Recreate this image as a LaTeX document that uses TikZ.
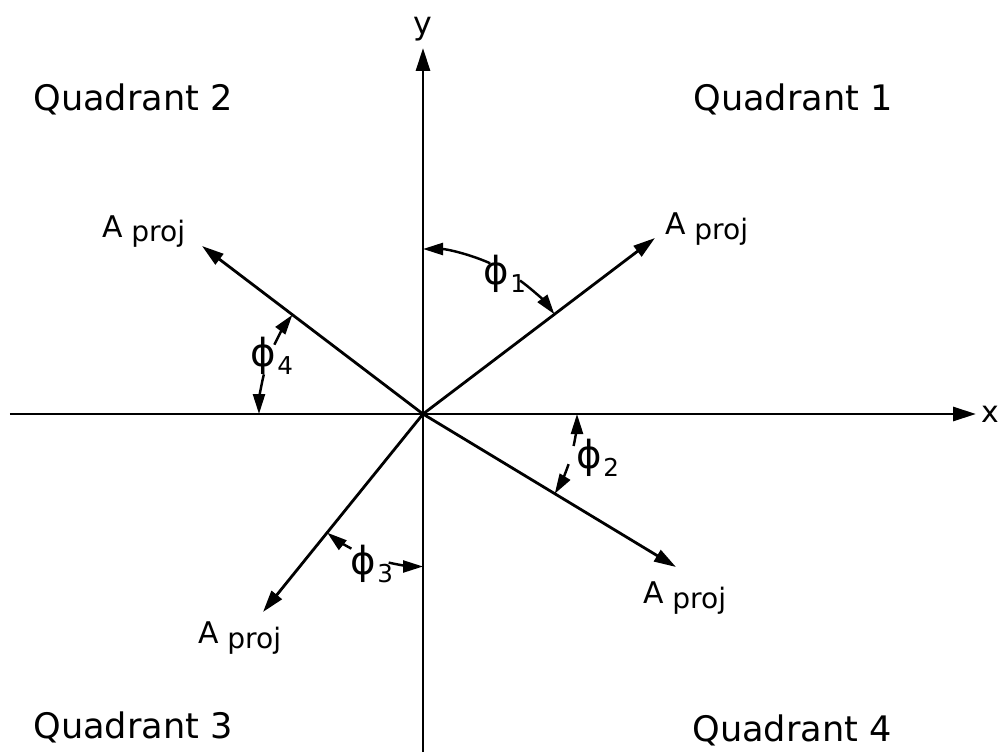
\documentclass[tikz,border=0pt]{standalone}
\usepackage{fontspec}
\setmainfont{DejaVu Sans}
\usetikzlibrary{arrows.meta,positioning}
\newcommand{\aproj}{A\hspace{0.17cm}\raisebox{-0.1cm}{\fontsize{16}{18}\selectfont proj}}
\newcommand{\phisub}[1]{{\fontsize{22}{24}\selectfont ϕ}\hspace{0.02cm}\raisebox{-0.15cm}{\fontsize{14}{16}\selectfont #1}}

\begin{document}
\begin{tikzpicture}[
    axis/.style={line width=1.7pt, -{Triangle[length=0.46cm,width=0.28cm]}},
    vec/.style={line width=1.6pt, -{Triangle[length=0.44cm,width=0.26cm]}},
    ang/.style={line width=1.4pt, -{Triangle[length=0.40cm,width=0.24cm]}},
    quad/.style={font=\fontsize{20}{24}\selectfont, inner sep=0pt, anchor=west},
    lbl/.style={font=\fontsize{17}{20}\selectfont, inner sep=0pt, anchor=base west},
    philbl/.style={inner sep=0pt}
  ]
  \useasboundingbox (-8.46,-6.76) rectangle (11.52,8.28);

  % axes
  \coordinate (O) at (0,0);
  \coordinate (xl) at (-8.26,0);
  \coordinate (xr) at (11.06,0);
  \coordinate (yb) at (0,-6.76);
  \coordinate (yt) at (0,7.32);
  \draw[axis] (xl) -- (xr);
  \draw[axis] (yb) -- (yt);
  \node[font=\fontsize{17}{20}\selectfont, inner sep=0pt, right=0.1cm of xr] (xlab) {x};
  \node[font=\fontsize{18}{20}\selectfont, above=0.02cm of yt] (ylab) {y};

  % quadrants
  \node[quad] (quad1) at (5.40,6.30) {Quadrant 1};
  \node[quad] (quad2) at (-7.80,6.30) {Quadrant 2};
  \node[quad] (quad3) at (-7.80,-6.26) {Quadrant 3};
  \node[quad] (quad4) at (5.38,-6.32) {Quadrant 4};

  % projected vectors
  \coordinate (tip1) at (4.64,3.52);
  \coordinate (tip2) at (-4.42,3.36);
  \coordinate (tip3) at (-3.20,-3.96);
  \coordinate (tip4) at (5.06,-3.06);
  \foreach \i in {1,...,4}
    \draw[vec] (O) -- (tip\i);
  \node[lbl] (proj1) at (4.84,3.58) {\aproj};
  \node[lbl] (proj2) at (-6.42,3.54) {\aproj};
  \node[lbl] (proj3) at (-4.50,-4.58) {\aproj};
  \node[lbl] (proj4) at (4.40,-3.78) {\aproj};

  % angles
  \draw[ang] ([shift={(66:3.3)}]O) arc[start angle=66, end angle=90, radius=3.3];
  \draw[ang] ([shift={(54:3.3)}]O) arc[start angle=54, end angle=37.2, radius=3.3];
  \node[philbl] (phi1) at (1.64,2.80) {\phisub{1}};

  \draw[ang] ([shift={(-12:3.08)}]O) arc[start angle=-12, end angle=0, radius=3.08];
  \draw[ang] ([shift={(-19:3.08)}]O) arc[start angle=-19, end angle=-31.2, radius=3.08];
  \node[philbl] (phi2) at (3.50,-0.88) {\phisub{2}};

  \draw[ang] ([shift={(242:3.05)}]O) arc[start angle=242, end angle=231.1, radius=3.05];
  \draw[ang] ([shift={(257:3.05)}]O) arc[start angle=257, end angle=270, radius=3.05];
  \node[philbl] (phi3) at (-1.02,-3.00) {\phisub{3}};

  \draw[ang] ([shift={(155:3.28)}]O) arc[start angle=155, end angle=142.8, radius=3.28];
  \draw[ang] ([shift={(166:3.28)}]O) arc[start angle=166, end angle=180, radius=3.28];
  \node[philbl] (phi4) at (-3.02,1.16) {\phisub{4}};
\end{tikzpicture}
\end{document}
